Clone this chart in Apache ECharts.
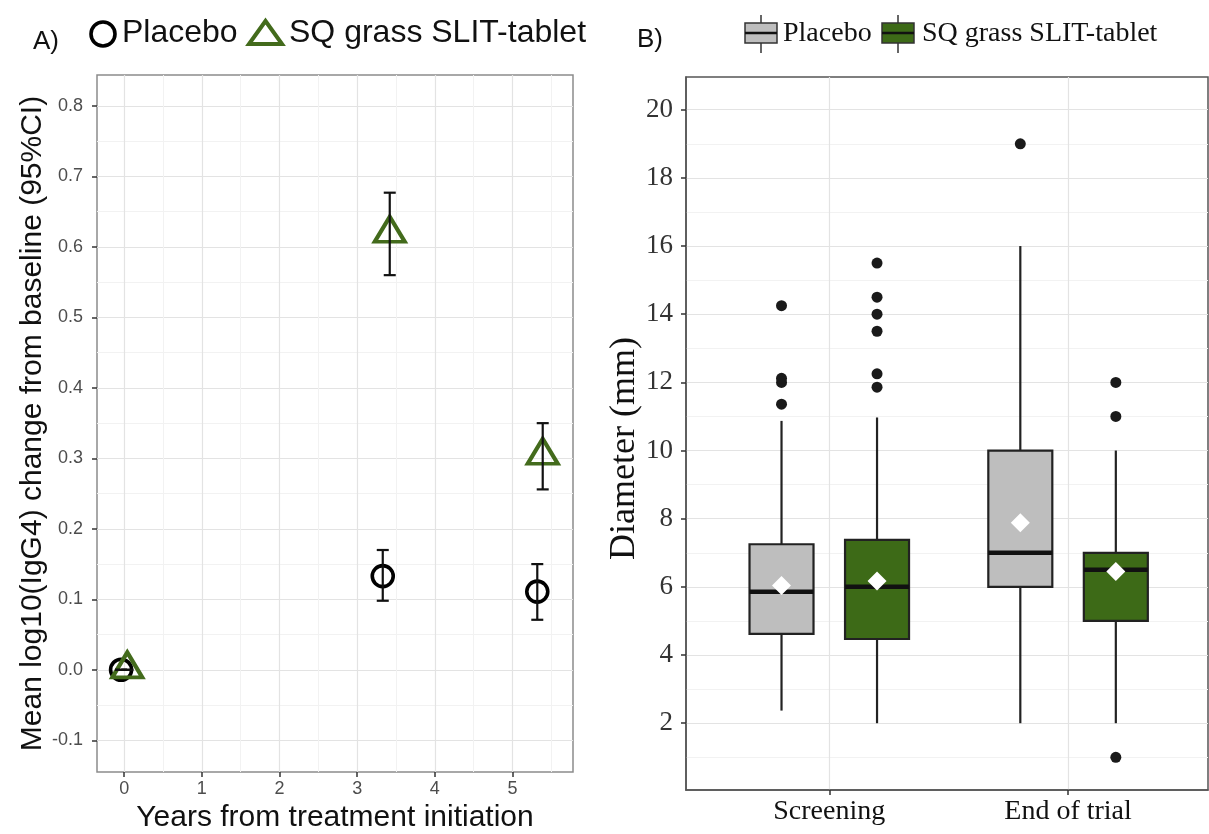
<!DOCTYPE html>
<html>
<head>
<meta charset="utf-8">
<script src="https://cdn.jsdelivr.net/npm/echarts@6/dist/echarts.min.js"></script>
<style>
  html, body { margin: 0; padding: 0; background: #ffffff; }
  #chart { width: 1209px; height: 834px; }
</style>
</head>
<body>
<div id="chart"></div>
<script>
// ---- Panel A: mean log10(IgG4) change from baseline, with 95% CI ----
const yearsPlacebo = [-0.04, 3.33, 5.32];
const meanPlacebo  = [0.0, 0.133, 0.111];
const lowerPlacebo = [0.0, 0.098, 0.071];
const upperPlacebo = [0.0, 0.170, 0.150];

const yearsSlit = [0.04, 3.42, 5.39];
const meanSlit  = [0.0, 0.618, 0.303];
const lowerSlit = [0.0, 0.560, 0.256];
const upperSlit = [0.0, 0.677, 0.350];

const yearTicks = [0, 1, 2, 3, 4, 5];
const yearMinor = [0.5, 1.5, 2.5, 3.5, 4.5, 5.5];
const changeTicks = [-0.1, 0.0, 0.1, 0.2, 0.3, 0.4, 0.5, 0.6, 0.7, 0.8];
const changeMinor = [-0.05, 0.05, 0.15, 0.25, 0.35, 0.45, 0.55, 0.65, 0.75];

// ---- Panel B: wheal diameter by visit ----
const visits = ['Screening', 'End of trial'];
// each box: [lower whisker, Q1, median, Q3, upper whisker]
const placeboBoxes = [[2.37, 4.62, 5.86, 7.25, 10.87], [2.0, 6.0, 7.0, 10.0, 16.0]];
const slitBoxes    = [[2.0, 4.47, 6.0, 7.38, 10.97], [2.0, 5.0, 6.5, 7.0, 10.0]];
const placeboMeans = [6.04, 7.88];
const slitMeans    = [6.17, 6.45];
const placeboOutliers = [[11.36, 12.0, 12.12, 14.25], [19.0]];
const slitOutliers    = [[11.86, 12.25, 13.5, 14.0, 14.5, 15.5], [1.0, 11.0, 12.0]];
const diameterTicks = [2, 4, 6, 8, 10, 12, 14, 16, 18, 20];
const diameterMinor = [1, 3, 5, 7, 9, 11, 13, 15, 17, 19];

const SANS = 'Liberation Sans, Arial, sans-serif';
const SERIF = 'Liberation Serif, Times New Roman, serif';
const GREEN_PT = '#436b1c';
const GREEN_BOX = '#3d6a17';
const GREY_BOX = '#bebebe';
const MAJOR = '#e3e3e3';
const MINOR = '#f2f2f2';

const DODGE = 0.2;       // offset of each treatment from the visit centre
const BOX_HALF = 0.134;  // half box width in axis units

function zip(xs, ys) { return xs.map((x, i) => [x, ys[i]]); }
function errRows(xs, lo, hi) { return xs.map((x, i) => [x, lo[i], hi[i]]); }
function boxRows(boxes, shift) { return boxes.map((b, i) => [i + 1 + shift].concat(b)); }
function outlierRows(groups, shift) {
  const rows = [];
  groups.forEach((vals, i) => vals.forEach(v => rows.push([i + 1 + shift, v])));
  return rows;
}
function meanRows(means, shift) { return means.map((m, i) => [i + 1 + shift, m]); }

function renderErrorBar(params, api) {
  const x = api.value(0);
  const top = api.coord([x, api.value(2)]);
  const bot = api.coord([x, api.value(1)]);
  const cap = 6;
  const style = { stroke: '#111', lineWidth: 2.2 };
  return {
    type: 'group',
    children: [
      { type: 'line', shape: { x1: top[0], y1: top[1], x2: bot[0], y2: bot[1] }, style },
      { type: 'line', shape: { x1: top[0] - cap, y1: top[1], x2: top[0] + cap, y2: top[1] }, style },
      { type: 'line', shape: { x1: bot[0] - cap, y1: bot[1], x2: bot[0] + cap, y2: bot[1] }, style }
    ]
  };
}

function makeBoxRenderer(fill) {
  return function (params, api) {
    const x = api.value(0);
    const lo = api.coord([x, api.value(1)]);
    const q1 = api.coord([x, api.value(2)]);
    const md = api.coord([x, api.value(3)]);
    const q3 = api.coord([x, api.value(4)]);
    const hi = api.coord([x, api.value(5)]);
    const hw = api.size([BOX_HALF, 0])[0];
    const lineStyle = { stroke: '#222', lineWidth: 2.2 };
    return {
      type: 'group',
      children: [
        { type: 'line', shape: { x1: hi[0], y1: hi[1], x2: q3[0], y2: q3[1] }, style: lineStyle },
        { type: 'line', shape: { x1: q1[0], y1: q1[1], x2: lo[0], y2: lo[1] }, style: lineStyle },
        { type: 'rect', shape: { x: q3[0] - hw, y: q3[1], width: hw * 2, height: q1[1] - q3[1] },
          style: { fill: fill, stroke: '#222', lineWidth: 2.2 } },
        { type: 'line', shape: { x1: md[0] - hw, y1: md[1], x2: md[0] + hw, y2: md[1] },
          style: { stroke: '#111', lineWidth: 4.5 } }
      ]
    };
  };
}

const tickLabelA = { fontFamily: SANS, fontSize: 18, color: '#4d4d4d' };
const tickLabelB = { fontFamily: SERIF, fontSize: 27, color: '#333' };

// hidden helper axis that only draws the lighter minor grid lines
function minorAxis(gridIndex, position, min, max, values) {
  return {
    type: 'value', gridIndex, position, min, max,
    axisLine: { show: false, onZero: false }, axisLabel: { show: false },
    axisTick: { show: false, customValues: values },
    splitLine: { show: true, lineStyle: { color: MINOR, width: 1 } }
  };
}

const option = {
  backgroundColor: '#ffffff',
  animation: false,
  grid: [
    { left: 97, top: 75, width: 476, height: 697, outerBoundsMode: 'none', containLabel: false,
      show: true, borderColor: '#8c8c8c', borderWidth: 1.5, backgroundColor: '#fff' },
    { left: 686, top: 77, width: 522, height: 713, outerBoundsMode: 'none', containLabel: false,
      show: true, borderColor: '#555', borderWidth: 1.5, backgroundColor: '#fff' }
  ],
  xAxis: [
    minorAxis(0, 'top', -0.35, 5.78, yearMinor),
    {
      type: 'value', gridIndex: 0, position: 'bottom', min: -0.35, max: 5.78,
      name: 'Years from treatment initiation', nameLocation: 'middle', nameGap: 30,
      nameTextStyle: { fontFamily: SANS, fontSize: 30, color: '#111' },
      axisLine: { show: false, onZero: false },
      axisTick: { show: true, length: 5, customValues: yearTicks, lineStyle: { color: '#333', width: 1.5 } },
      axisLabel: { customValues: yearTicks, margin: 8, ...tickLabelA },
      splitLine: { show: true, lineStyle: { color: MAJOR, width: 1.2 } }
    },
    {
      type: 'value', gridIndex: 1, position: 'bottom', min: 0.4, max: 2.586,
      axisLine: { show: true, onZero: false, lineStyle: { color: '#555', width: 1.5 } },
      axisTick: { show: true, length: 5, customValues: [1, 2], lineStyle: { color: '#333', width: 1.5 } },
      axisLabel: { customValues: [1, 2], margin: 8, formatter: v => visits[Math.round(v) - 1],
                   fontFamily: SERIF, fontSize: 28, color: '#111' },
      splitLine: { show: true, lineStyle: { color: MAJOR, width: 1.2 } }
    }
  ],
  yAxis: [
    minorAxis(0, 'right', -0.145, 0.844, changeMinor),
    {
      type: 'value', gridIndex: 0, position: 'left', min: -0.145, max: 0.844,
      name: 'Mean log10(IgG4) change from baseline (95%CI)', nameLocation: 'middle', nameGap: 48,
      nameTextStyle: { fontFamily: SANS, fontSize: 30, color: '#111' },
      axisLine: { show: false, onZero: false },
      axisTick: { show: true, length: 5, customValues: changeTicks, lineStyle: { color: '#333', width: 1.5 } },
      axisLabel: { customValues: changeTicks, margin: 14, formatter: v => v.toFixed(1), ...tickLabelA },
      splitLine: { show: true, lineStyle: { color: MAJOR, width: 1.2 } }
    },
    minorAxis(1, 'right', 0.04, 20.96, diameterMinor),
    {
      type: 'value', gridIndex: 1, position: 'left', min: 0.04, max: 20.96,
      name: 'Diameter (mm)', nameLocation: 'middle', nameGap: 42,
      nameTextStyle: { fontFamily: SERIF, fontSize: 36, color: '#111', padding: [0, 30, 0, 0] },
      axisLine: { show: true, onZero: false, lineStyle: { color: '#555', width: 1.5 } },
      axisTick: { show: true, length: 5, customValues: diameterTicks, lineStyle: { color: '#333', width: 1.5 } },
      axisLabel: { customValues: diameterTicks, margin: 13, ...tickLabelB },
      splitLine: { show: true, lineStyle: { color: MAJOR, width: 1.2 } }
    }
  ],
  series: [
    {
      name: 'Placebo', type: 'scatter', xAxisIndex: 1, yAxisIndex: 1,
      data: zip(yearsPlacebo, meanPlacebo),
      symbol: 'circle', symbolSize: 21,
      itemStyle: { color: 'rgba(0,0,0,0)', borderColor: '#000', borderWidth: 3.6, opacity: 1 },
      z: 3
    },
    {
      name: 'SQ grass SLIT-tablet', type: 'scatter', xAxisIndex: 1, yAxisIndex: 1,
      data: zip(yearsSlit, meanSlit),
      symbol: 'triangle', symbolSize: [30, 25], symbolOffset: [0, -5],
      itemStyle: { color: 'rgba(0,0,0,0)', borderColor: GREEN_PT, borderWidth: 4, opacity: 1 },
      z: 3
    },
    {
      type: 'custom', xAxisIndex: 1, yAxisIndex: 1, silent: true, z: 4,
      renderItem: renderErrorBar,
      data: errRows(yearsPlacebo, lowerPlacebo, upperPlacebo)
    },
    {
      type: 'custom', xAxisIndex: 1, yAxisIndex: 1, silent: true, z: 4,
      renderItem: renderErrorBar,
      data: errRows(yearsSlit, lowerSlit, upperSlit)
    },
    {
      type: 'custom', xAxisIndex: 2, yAxisIndex: 3, silent: true, z: 3,
      renderItem: makeBoxRenderer(GREY_BOX),
      data: boxRows(placeboBoxes, -DODGE)
    },
    {
      type: 'custom', xAxisIndex: 2, yAxisIndex: 3, silent: true, z: 3,
      renderItem: makeBoxRenderer(GREEN_BOX),
      data: boxRows(slitBoxes, DODGE)
    },
    {
      type: 'scatter', xAxisIndex: 2, yAxisIndex: 3, z: 4,
      data: outlierRows(placeboOutliers, -DODGE).concat(outlierRows(slitOutliers, DODGE)),
      symbol: 'circle', symbolSize: 11,
      itemStyle: { color: '#1a1a1a', opacity: 1 }
    },
    {
      type: 'scatter', xAxisIndex: 2, yAxisIndex: 3, z: 5,
      data: meanRows(placeboMeans, -DODGE).concat(meanRows(slitMeans, DODGE)),
      symbol: 'diamond', symbolSize: 19,
      itemStyle: { color: '#ffffff', opacity: 1 }
    }
  ],
  graphic: [
    // panel tags
    { type: 'text', left: 33, top: 29, style: { text: 'A)', fontFamily: SANS, fontSize: 26, fill: '#111' } },
    { type: 'text', left: 637, top: 27, style: { text: 'B)', fontFamily: SANS, fontSize: 26, fill: '#111' } },
    // legend A
    { type: 'circle', shape: { cx: 103, cy: 34, r: 12 }, style: { fill: 'none', stroke: '#000', lineWidth: 3.6 } },
    { type: 'text', left: 122, top: 17, style: { text: 'Placebo', fontFamily: SANS, fontSize: 32, fill: '#111' } },
    { type: 'polygon', shape: { points: [[265.5, 21], [282, 44], [249, 44]] }, style: { fill: 'none', stroke: GREEN_PT, lineWidth: 4 } },
    { type: 'text', left: 289, top: 17, style: { text: 'SQ grass SLIT-tablet', fontFamily: SANS, fontSize: 32, fill: '#111' } },
    // legend B: grey key
    { type: 'line', shape: { x1: 761, y1: 15, x2: 761, y2: 53 }, style: { stroke: '#333', lineWidth: 1.5 } },
    { type: 'rect', shape: { x: 745, y: 23, width: 32, height: 20 }, style: { fill: GREY_BOX, stroke: '#333', lineWidth: 1.5 } },
    { type: 'line', shape: { x1: 745, y1: 33, x2: 777, y2: 33 }, style: { stroke: '#111', lineWidth: 2.5 } },
    { type: 'text', left: 783, top: 20, style: { text: 'Placebo', fontFamily: SERIF, fontSize: 28, fill: '#111' } },
    // legend B: green key
    { type: 'line', shape: { x1: 898, y1: 15, x2: 898, y2: 53 }, style: { stroke: '#333', lineWidth: 1.5 } },
    { type: 'rect', shape: { x: 882, y: 23, width: 32, height: 20 }, style: { fill: GREEN_BOX, stroke: '#333', lineWidth: 1.5 } },
    { type: 'line', shape: { x1: 882, y1: 33, x2: 914, y2: 33 }, style: { stroke: '#111', lineWidth: 2.5 } },
    { type: 'text', left: 922, top: 20, style: { text: 'SQ grass SLIT-tablet', fontFamily: SERIF, fontSize: 28, fill: '#111' } }
  ]
};

const chart = echarts.init(document.getElementById('chart'), null, { renderer: 'canvas' });
chart.setOption(option);
</script>
</body>
</html>
